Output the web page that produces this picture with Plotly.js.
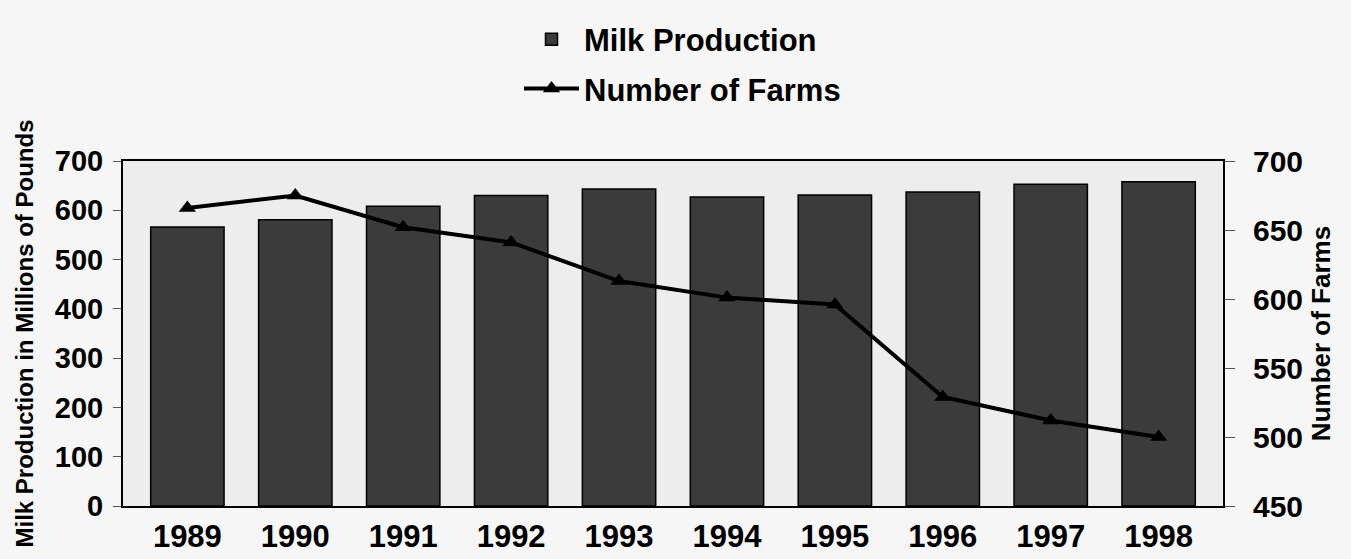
<!DOCTYPE html>
<html>
<head>
<meta charset="utf-8">
<script src="https://cdn.plot.ly/plotly-3.0.1.min.js"></script>
<style>
  html, body { margin: 0; padding: 0; background: #f6f6f6; }
  #chart { width: 1351px; height: 559px; }
</style>
</head>
<body>
<div id="chart"></div>
<script>
const years = ['1989', '1990', '1991', '1992', '1993', '1994', '1995', '1996', '1997', '1998'];
const milkProduction = [566, 581, 608, 630, 643, 627, 631, 637, 653, 658];
const numberOfFarms = [666, 675, 652, 641, 613, 601, 596, 529, 512, 500];

const FONT = '"Liberation Sans", Arial, sans-serif';

const traces = [
  {
    type: 'bar',
    name: 'Milk Production',
    legendgroup: 'a',
    x: years,
    y: milkProduction,
    marker: { color: '#3b3b3b', line: { color: '#000000', width: 1.5 } },
    yaxis: 'y'
  },
  {
    type: 'scatter',
    mode: 'lines+markers',
    name: 'Number of Farms',
    legendgroup: 'b',
    x: years,
    y: numberOfFarms,
    line: { color: '#000000', width: 4 },
    marker: { symbol: 'triangle-up', size: 15, color: '#000000' },
    yaxis: 'y2'
  }
];

const layout = {
  width: 1351,
  height: 559,
  margin: { l: 123, r: 128, t: 154, b: 53 },
  paper_bgcolor: '#f6f6f6',
  plot_bgcolor: '#ededed',
  font: { family: FONT, color: '#000000', size: 30, weight: 'bold' },
  showlegend: true,
  bargap: 0.32,
  legend: {
    x: 0.36, y: 1.43, xanchor: 'left', yanchor: 'top',
    orientation: 'v',
    bgcolor: 'rgba(0,0,0,0)',
    font: { family: FONT, size: 31, color: '#000000', weight: 'bold' },
    itemwidth: 55,
    traceorder: 'grouped',
    tracegroupgap: 6
  },
  xaxis: {
    type: 'category',
    showline: true, linecolor: '#000000', linewidth: 2,
    mirror: true,
    ticks: '',
    tickfont: { family: FONT, size: 31, color: '#000000', weight: 'bold' },
    ticklabelstandoff: 2,
    showgrid: false,
    zeroline: false
  },
  yaxis: {
    range: [0, 700],
    dtick: 100,
    showline: true, linecolor: '#000000', linewidth: 2,
    ticks: 'outside', ticklen: 8, tickcolor: '#555555', tickwidth: 1,
    tickfont: { family: FONT, size: 29, color: '#000000', weight: 'bold' },
    ticklabelstandoff: 4,
    showgrid: false,
    zeroline: false,
    title: {
      text: 'Milk Production in Millions of Pounds',
      font: { family: FONT, size: 24, color: '#000000', weight: 'bold' },
      standoff: 14
    }
  },
  yaxis2: {
    range: [450, 700],
    dtick: 50,
    overlaying: 'y',
    side: 'right',
    showline: true, linecolor: '#000000', linewidth: 2,
    ticks: 'outside', ticklen: 10, tickcolor: '#555555', tickwidth: 1,
    tickfont: { family: FONT, size: 30, color: '#000000', weight: 'bold' },
    ticklabelstandoff: 12,
    showgrid: false,
    zeroline: false,
    title: {
      text: 'Number of Farms',
      font: { family: FONT, size: 26, color: '#000000', weight: 'bold' },
      standoff: 10
    }
  }
};

Plotly.newPlot('chart', traces, layout, { displayModeBar: false, staticPlot: true });
</script>
</body>
</html>
